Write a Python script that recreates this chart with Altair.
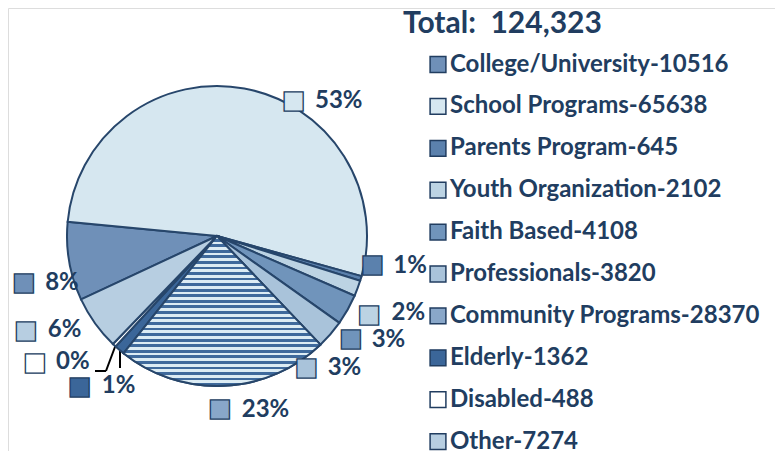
import math
import altair as alt
import pandas as pd

# ---------------- data ----------------
categories = ["College/University", "\u00a0School Programs", "Parents Program",
              "Youth Organization", "Faith Based", "Professionals",
              "Community Programs", "Elderly", "Disabled", "Other"]
values = [10516, 65638, 645, 2102, 4108, 3820, 28370, 1362, 488, 7274]
total_title = "Total:\u00a0 124,323"

# ---------------- styles ----------------
fills = ["#6f90b8", "#d6e7f0", "#5b81ad", "#bcd3e3", "#7094bb",
         "#a9c3da", "#89a7c9", "#3b6699", "#ffffff", "#b7cee1"]
text_color = "#213d60"
edge_color = "#27466b"
stripe_dark = "#3f6a9c"
stripe_light = "#dcecf4"
CX, CY, R = 209, 228, 150
start_angle = math.radians(245)

total = sum(values)
legend_labels = [f"{c}-{v}" for c, v in zip(categories, values)]
pct = [f"{round(v / total * 100)}%" for v in values]
ends, acc = [], 0
for v in values:
    acc += v
    ends.append(acc)
starts = [e - v for e, v in zip(ends, values)]
mids = [(s + e) / 2 for s, e in zip(starts, ends)]

df = pd.DataFrame({
    "idx": list(range(len(values))),
    "legend": legend_labels,
    "value": values,
    "start": starts,
    "end": ends,
    "mid": mids,
    "pct": pct,
})

theta_scale = alt.Scale(domain=[0, total], range=[start_angle, start_angle + 2 * math.pi])
color_scale = alt.Scale(domain=legend_labels, range=fills)

base = alt.Chart(df)

pie = base.mark_arc(x=CX, y=CY, outerRadius=R, stroke=edge_color, strokeWidth=2).encode(
    theta=alt.Theta("start:Q", scale=theta_scale, stack=None),
    theta2="end:Q",
    color=alt.Color(
        "legend:N", scale=color_scale,
        legend=alt.Legend(
            title=total_title, orient="none", legendX=395, legendY=1,
            symbolType="square", symbolSize=250, symbolStrokeColor=text_color,
            symbolStrokeWidth=1.5, symbolOffset=23,
            labelFont="Lato", labelFontSize=24, labelFontWeight="bold",
            labelColor=text_color, labelLimit=500, labelOffset=0,
            titleFont="Lato", titleFontSize=30, titleFontWeight="bold",
            titleColor=text_color, titlePadding=13.5, rowPadding=17.9, padding=0,
            titleLimit=500,
        ),
    ),
)

# horizontal stripe pattern for the Community Programs slice
n_stripes = 27
stops = []
for k in range(n_stripes):
    a = k / n_stripes
    m = (k + 0.5) / n_stripes
    b = (k + 1) / n_stripes
    stops += [alt.GradientStop(offset=a, color=stripe_light),
              alt.GradientStop(offset=m, color=stripe_light),
              alt.GradientStop(offset=m, color=stripe_dark),
              alt.GradientStop(offset=b, color=stripe_dark)]
stripes = alt.Gradient(gradient="linear", stops=stops, x1=0, x2=0, y1=0, y2=1)

community = base.transform_filter(alt.datum.idx == 6).mark_arc(
    x=CX, y=CY, outerRadius=R, stroke=edge_color, strokeWidth=2, fill=stripes,
).encode(
    theta=alt.Theta("start:Q", scale=theta_scale, stack=None),
    theta2="end:Q",
)

# label nudges (layout only): (text dx, text dy, icon dx, icon dy)
nudges = [
    (-24, 21.5, -45, 20.5),
    (70.7, 12.5, 49.4, 11.2),
    (32.5, -12.8, 11.7, -14.8),
    (34, 24.5, 11.7, 25.5),
    (24, 30.4, 3.3, 28.7),
    (-2.7, 34.1, -23.7, 33),
    (18.2, 23.8, -3.5, 22.4),
    (-17.7, 35.9, -39.7, 35.9),
    (-58.3, 16.6, -79.3, 16.6),
    (-47.2, 6.9, -68.9, 6.6),
]

layers = [pie, community]
for i, (tdx, tdy, idx_, idy) in enumerate(nudges):
    sub = base.transform_filter(alt.datum.idx == i)
    layers.append(sub.mark_text(
        x=CX, y=CY, radius=R, dx=tdx, dy=tdy, align="left", baseline="middle",
        font="Lato", fontSize=24, fontWeight="bold", color=text_color,
    ).encode(theta=alt.Theta("mid:Q", scale=theta_scale, stack=None), text="pct:N"))
    layers.append(sub.mark_text(
        x=CX, y=CY, radius=R, dx=idx_, dy=idy, align="center", baseline="middle",
        font="DejaVu Sans", fontSize=25, stroke=text_color, strokeWidth=1.3, text="\u25a0",
    ).encode(theta=alt.Theta("mid:Q", scale=theta_scale, stack=None),
             color=alt.Color("legend:N", scale=color_scale, legend=None)))

# leader lines for the two tiny slices
one = alt.Chart(pd.DataFrame({"a": [0]}))
leader = [
    one.mark_rule(color="black", strokeWidth=2).encode(
        x=alt.value(107.7), y=alt.value(337), x2=alt.value(98), y2=alt.value(363)),
    one.mark_rule(color="black", strokeWidth=2).encode(
        x=alt.value(98), y=alt.value(363), x2=alt.value(87), y2=alt.value(363)),
    one.mark_rule(color="black", strokeWidth=2).encode(
        x=alt.value(112), y=alt.value(342), x2=alt.value(112), y2=alt.value(360)),
]

chart = alt.layer(*leader, *layers).properties(
    width=767, height=443,
    autosize=alt.AutoSizeParams(type="none"),
    padding=0,
).configure_view(stroke=None).configure(background="white")

chart.save("out.html", embed_options={"renderer": "svg", "actions": False})
